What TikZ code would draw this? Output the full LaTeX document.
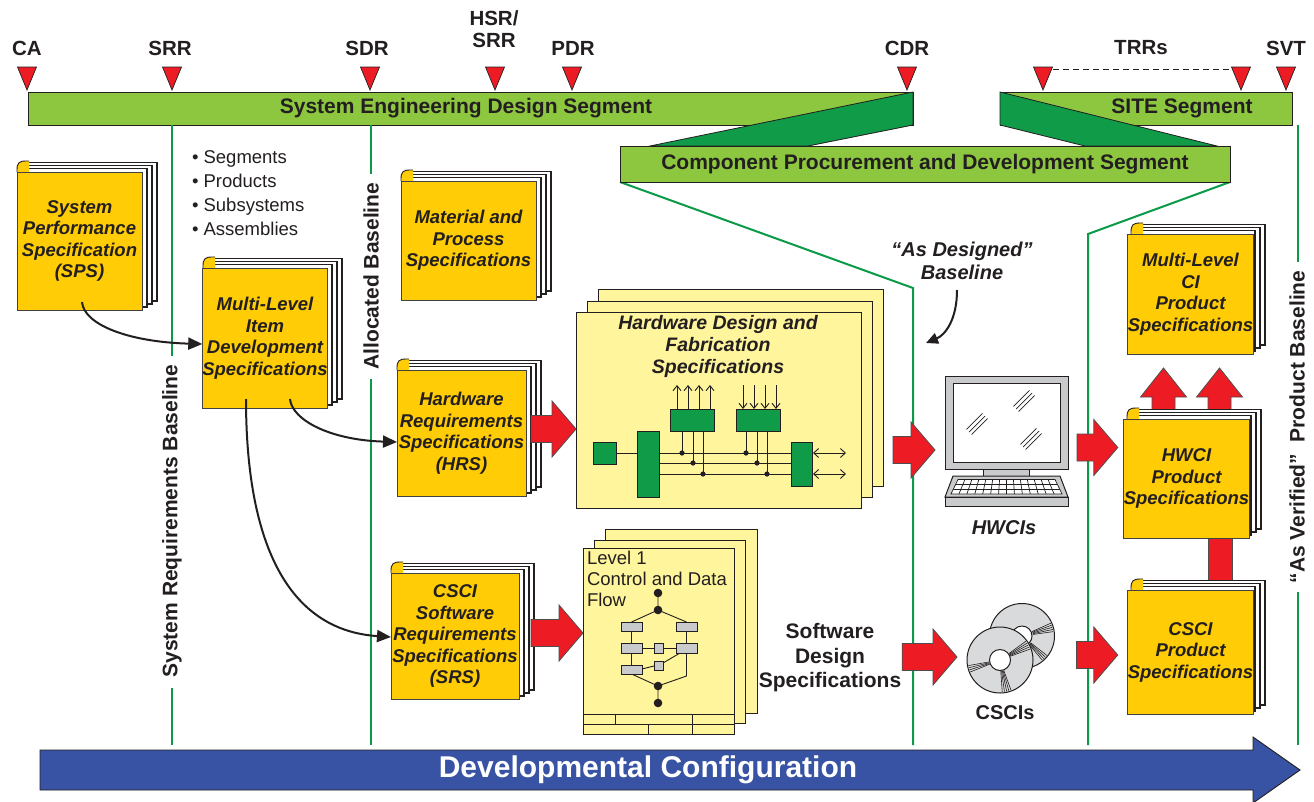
\documentclass[tikz,border=0pt]{standalone}
\usepackage{fontspec}
\setmainfont{Liberation Sans}
\usetikzlibrary{arrows.meta,calc}

\definecolor{ink}{HTML}{231F20}
\definecolor{lgreen}{HTML}{8DC63F}
\definecolor{dgreen}{HTML}{0F9B48}
\definecolor{lineg}{HTML}{0A9A48}
\definecolor{gold}{HTML}{FFCC05}
\definecolor{paleyel}{HTML}{FFF59C}
\definecolor{ared}{HTML}{ED1C24}
\definecolor{dblue}{HTML}{3853A4}
\definecolor{lgray}{HTML}{C9CACC}
\definecolor{discgray}{HTML}{D9DADB}

\newcommand\fsz[2]{\fontsize{#1}{#2}\selectfont}

\tikzset{
  every node/.style={text=ink, inner sep=0pt, outer sep=0pt},
  bline/.style={draw=lineg, line width=2pt},
  segbar/.style={draw=ink, line width=1pt, fill=lgreen},
  segjoin/.style={draw=ink, line width=0.8pt, fill=dgreen},
  segtext/.style={font=\bfseries\fsz{21}{24}},
  mslabel/.style={font=\bfseries\fsz{20.5}{22}, align=center},
  mstri/.style={fill=ared, draw=ink, line width=0.7pt},
  vlabel/.style={font=\bfseries\fsz{21}{24}, rotate=90},
  backpage/.style={fill=white, draw=ink, line width=1.1pt},
  curlline/.style={draw=ink, line width=0.9pt},
  frontpage/.style={fill=gold, draw=ink!85, line width=1pt,
    font=\bfseries\itshape\fsz{18.5}{21.5}, align=center},
  paper/.style={fill=paleyel, draw=ink, line width=1pt},
  chip/.style={fill=dgreen, draw=ink, line width=0.9pt},
  wire/.style={draw=ink, line width=0.9pt},
  flowbox/.style={fill=lgray, draw=ink, line width=0.8pt},
  redblock/.style={fill=ared, draw=ink!80, line width=0.8pt, line join=miter},
  flowarrow/.style={draw=ink, line width=2pt, -{Triangle[length=14pt,width=12pt]}},
  comp/.style={fill=lgray, draw=ink, line width=1pt},
  disc/.style={circle, fill=discgray, draw=ink, line width=1pt},
  bigarrow/.style={fill=dblue, draw=ink, line width=0.9pt},
}

% a specification book: name, x0, y0, x1, y1 (front cover), title
\newcommand\specbook[6]{%
  \foreach \k in {3,2,1}{%
    \draw[backpage] ({#2+5},{#3-3.3*\k}) rectangle ({#4+5*\k},{#5-3*\k});
  }
  \fill[gold] (#2,#3) -- (#2,{#3-2}) .. controls (#2,{#3-9}) and ({#2+2},{#3-11}) .. ({#2+9},{#3-11})
     -- ({#2+12},{#3-11}) -- ({#2+12},#3) -- cycle;
  \draw[curlline] (#2,#3) -- (#2,{#3-2}) .. controls (#2,{#3-9}) and ({#2+2},{#3-11}) .. ({#2+9},{#3-11})
     -- ({#2+12},{#3-11});
  \node[frontpage, minimum width={(#4-#2)*1pt}, minimum height={(#5-#3)*1pt}]
     (#1) at ({(#2+#4)/2},{(#3+#5)/2}) {#6};
}

% red block arrow pointing right: tail point, tip point
\newcommand\hblock[2]{%
  \draw[redblock] let \p1=#1, \p2=#2 in
    (\x1,\y2+13.5pt) -- (\x2-24pt,\y2+13.5pt) -- (\x2-24pt,\y2+28pt) -- (\p2)
    -- (\x2-24pt,\y2-28pt) -- (\x2-24pt,\y2-13.5pt) -- (\x1,\y2-13.5pt) -- cycle;
}
% red block arrow pointing up: tail point, tip point
\newcommand\vblock[2]{%
  \draw[redblock] let \p1=#1, \p2=#2 in
    (\x2-11.5pt,\y1) -- (\x2-11.5pt,\y2-29pt) -- (\x2-23pt,\y2-29pt) -- (\p2)
    -- (\x2+23pt,\y2-29pt) -- (\x2+11.5pt,\y2-29pt) -- (\x2+11.5pt,\y1) -- cycle;
}

\begin{document}
\begin{tikzpicture}[x=1pt,y=-1pt]
\useasboundingbox (0,0) rectangle (1314,801);
\fill[white] (0,0) rectangle (1314,801);

% ---------- segment bars
\node[segbar, minimum width=885pt, minimum height=33pt] (seds) at (470.5,108.5) {};
\node[segbar, minimum width=292pt, minimum height=33pt] (site) at (1146,108.5) {};
\node[segbar, minimum width=610pt, minimum height=36pt] (cpds) at (925,164) {};

% ---------- baselines
\draw[bline] (seds.south -| 172,0) -- (172,356);
\draw[bline] (172,688) -- (172,745);
\draw[bline] (seds.south -| 371,0) -- (371,174);
\draw[bline] (371,379) -- (371,745);
\draw[bline] (cpds.south west) -- (913,288) -- (913,745);
\draw[bline] (cpds.south east) -- (1088,234) -- (1088,745);
\draw[bline] (site.south -| 1298,0) -- (1298,262);
\draw[bline] (1298,592) -- (1298,745);

\draw[segjoin] (seds.north east) -- (seds.south east) -- ($(cpds.north west)+(188,0)$)
   -- ($(cpds.north west)+(30,0)$) -- cycle;
\draw[segjoin] (site.north west) -- (site.south west) -- ($(cpds.north east)+(-145,0)$)
   -- ($(cpds.north east)+(-13,0)$) -- cycle;
\node[segbar, minimum width=610pt, minimum height=36pt] (cpds2) at (925,164) {};

\node[segtext] (sedst) at (466,108) {System Engineering Design Segment};
\node[segtext] (sitet) at (1182,108) {SITE Segment};
\node[segtext] (cpdst) at (925,164) {Component Procurement and Development Segment};

% ---------- milestones
\foreach \mx in {27,172,370,495,572,907,1043,1241,1286}{
  \draw[mstri] ({\mx-9.5},67) -- ({\mx+9.5},67) -- (\mx,90) -- cycle;
}
\draw[ink, line width=1pt, dash pattern=on 6pt off 4pt] (1053,69) -- (1231,69);
\node[mslabel] (mca) at (27,48) {CA};
\node[mslabel] (msrr) at (170,48) {SRR};
\node[mslabel] (msdr) at (367,48) {SDR};
\node[mslabel] (mhsr) at (494,29) {HSR/\\SRR};
\node[mslabel] (mpdr) at (573,48) {PDR};
\node[mslabel] (mcdr) at (907,48) {CDR};
\node[mslabel] (mtrr) at (1141,48) {TRRs};
\node[mslabel] (msvt) at (1286,48) {SVT};

% ---------- baseline labels
\node[vlabel] (srbl) at (172,521) {System Requirements Baseline};
\node[vlabel] (albl) at (371,276) {Allocated Baseline};
\node[vlabel] (avbl) at (1297,427) {“As Verified”\ \ Product Baseline};

% ---------- bullet list
\node[anchor=north west, align=left, font=\fsz{18.5}{23.7}] (blist) at (192,151)
  {• Segments\\• Products\\• Subsystems\\• Assemblies};

% ---------- requirement books
\specbook{sps}{17}{172}{142}{310}{System\\Performance\\Specification\\(SPS)}
\specbook{mlids}{203}{268}{327}{408}{Multi-Level\\Item\\Development\\Specifications}
\specbook{mps}{401}{181}{536}{300}{Material and\\Process\\Specifications}
\specbook{hrs}{397}{370}{526}{496}{Hardware\\Requirements\\Specifications\\(HRS)}
\specbook{srs}{391}{573}{519}{699}{CSCI\\Software\\Requirements\\Specifications\\(SRS)}

% ---------- flow arrows between books
\draw[flowarrow] ($(sps.south)+(2.5,-8)$) .. controls +(2,23) and +(-73,-2) .. ($(mlids.west)+(0,6)$);
\draw[flowarrow] ($(mlids.south)+(25,-9)$) .. controls +(2,21) and +(-67,-2) .. ($(hrs.west)+(0,9)$);
\draw[flowarrow] ($(mlids.south)+(-19,-9)$) .. controls +(0,141) and +(-105,-7) .. ($(srs.west)+(0,1)$);

% ---------- hardware design stack
\node[paper, minimum width=285pt, minimum height=197pt] (hwback) at (740.5,387.5) {};
\node[paper, minimum width=285pt, minimum height=196pt] (hwmid) at (729.5,399) {};
\node[paper, minimum width=285pt, minimum height=196pt] (hwfront) at (718.5,410) {};
\node[font=\bfseries\itshape\fsz{19.5}{22}, align=center] (hwtitle) at (718,346)
  {Hardware Design and\\Fabrication\\Specifications};
% circuit
\foreach \yy in {453,463,474}{ \draw[wire] (659,\yy) -- (791,\yy); }
\draw[wire] (616,453) -- (637,453);
\foreach \xx/\yy in {682/453,693/463,703/474,746/453,757/463,767/474}{
  \draw[wire] (\xx,431) -- (\xx,\yy);
  \fill[ink] (\xx,\yy) circle (2.6);
}
\foreach \xx in {677,688,699,710}{ \draw[wire, -{Straight Barb[length=5pt,width=8pt]}] (\xx,409) -- (\xx,385); }
\foreach \xx in {743,754,765,776}{ \draw[wire, -{Straight Barb[length=5pt,width=8pt]}] (\xx,385) -- (\xx,409); }
\foreach \yy in {453,474}{ \draw[wire, {Straight Barb[length=5pt,width=9pt]}-{Straight Barb[length=5pt,width=9pt]}] (813,\yy) -- (846,\yy); }
\node[chip, minimum width=23pt, minimum height=22pt] (csq) at (604.5,453) {};
\node[chip, minimum width=22pt, minimum height=66pt] (ctall) at (648,464) {};
\node[chip, minimum width=44pt, minimum height=22pt] (ctop1) at (692,420) {};
\node[chip, minimum width=44pt, minimum height=22pt] (ctop2) at (758,420) {};
\node[chip, minimum width=21pt, minimum height=44pt] (cright) at (801.5,464) {};

% ---------- software design stack
\node[paper, minimum width=152pt, minimum height=184pt] (swback) at (681,621) {};
\node[paper, minimum width=151pt, minimum height=183pt] (swmid) at (669.5,631.5) {};
\node[paper, minimum width=151pt, minimum height=186pt] (swfront) at (658.5,641) {};
\node[anchor=north west, align=left, font=\fsz{18.5}{21}] (swtitle) at (587,551)
  {Level 1\\Control and Data\\Flow};
% control flow
\draw[wire] (658,593) -- (658,610) -- (631.5,622);
\draw[wire] (658,610) -- (686.5,622);
\draw[wire] (631.5,631) -- (631.5,643);
\draw[wire] (631.5,653) -- (631.5,665);
\draw[wire] (686.5,631) -- (686.5,643);
\draw[wire] (686.5,653) -- (686.5,676) -- (658,686);
\draw[wire] (631.5,674) -- (658,686) -- (658,703);
\draw[wire] (642,648) -- (676,648);
\draw[wire] (642,669) -- (654,666);
\draw[wire] (663,663) -- (680,653);
\node[flowbox, minimum width=21pt, minimum height=9pt] (fl1) at (631.5,626.5) {};
\node[flowbox, minimum width=21pt, minimum height=10pt] (fl2) at (631.5,648) {};
\node[flowbox, minimum width=21pt, minimum height=9pt] (fl3) at (631.5,669.5) {};
\node[flowbox, minimum width=21pt, minimum height=9pt] (fr1) at (686.5,626.5) {};
\node[flowbox, minimum width=21pt, minimum height=10pt] (fr2) at (686.5,648) {};
\node[flowbox, minimum width=9pt, minimum height=10pt] (fs1) at (658.5,648) {};
\node[flowbox, minimum width=9pt, minimum height=9pt] (fs2) at (658.5,665.5) {};
\foreach \yy in {593,610,686,703}{ \fill[ink] (658,\yy) circle (4.3); }
% title block
\draw[wire] (583,714) -- (734,714);
\draw[wire] (583,724) -- (734,724);
\draw[wire] (615,714) -- (615,724);
\draw[wire] (692,714) -- (692,734);
\draw[wire] (648,724) -- (648,734);

\node[font=\bfseries\fsz{21}{24.5}, align=center] (sdspec) at (830,658)
  {Software\\Design\\Specifications};

% ---------- computer (HWCIs)
\node[comp, minimum width=123pt, minimum height=93pt] (monitor) at (1006.5,422.5) {};
\node[fill=white, draw=ink, line width=0.9pt, minimum width=107pt, minimum height=79pt] (screen) at (1006.5,422.5) {};
\foreach \cx/\cy in {977/424,1024/401,1031/439}{
  \foreach \d in {-2.6,0,2.6}{
    \draw[ink, line width=0.7pt] ({\cx-8+\d},{\cy+8+\d}) -- ({\cx+8+\d},{\cy-8+\d});
  }
}
\draw[comp] (983,469) rectangle (1029,476);
\draw[comp] (953,476) -- (1060,476) -- (1068,497) -- (945,497) -- cycle;
\draw[comp] (945,497) rectangle (1068,506);
\fill[white] (958,479.5) -- (1055,479.5) -- (1062,494) -- (951,494) -- cycle;
\draw[ink, line width=0.7pt] (958,479.5) -- (1055,479.5) -- (1062,494) -- (951,494) -- cycle;
\draw[ink, line width=0.7pt] (955.6,484.3) -- (1057.4,484.3);
\draw[ink, line width=0.7pt] (953.3,489.2) -- (1059.7,489.2);
\foreach \k in {1,...,13}{
  \draw[ink, line width=0.7pt] ({958+\k*97/14},479.5) -- ({951+\k*111/14},494);
}
\node[font=\bfseries\itshape\fsz{20}{22}] (hwcis) at (1004,528) {HWCIs};

% ---------- discs (CSCIs)
\node[disc, minimum size=65pt] (cdback) at (1022,636) {};
\foreach \a in {8,12,16,20,24,-38,-42,-46,-50}{
  \draw[ink, line width=0.6pt] ({1022+11*cos(\a)},{636-11*sin(\a)}) -- ({1022+31.5*cos(\a)},{636-31.5*sin(\a)});
}
\draw[fill=white, draw=ink, line width=1pt] (1022,636) circle (10);
\node[disc, minimum size=66pt] (cdfront) at (1000,660) {};
\foreach \a in {20,24,28,32,36,190,194,198,202,-70,-74,-78,-82,-86}{
  \draw[ink, line width=0.6pt] ({1000+11*cos(\a)},{660-11*sin(\a)}) -- ({1000+32*cos(\a)},{660-32*sin(\a)});
}
\draw[fill=white, draw=ink, line width=1pt] (1000,660) circle (10.5);
\node[font=\bfseries\fsz{20}{22}] (cscis) at (1005,713) {CSCIs};

% ---------- product specifications
\vblock{($(1163.5,419)$)}{($(1163.5,368)$)}
\vblock{($(1219.5,419)$)}{($(1219.5,368)$)}
\draw[redblock] (1208,533) rectangle (1232,590);
\specbook{mlci}{1131}{234}{1250}{354}{Multi-Level\\CI\\Product\\Specifications}
\specbook{hwcip}{1127}{419}{1246}{538}{HWCI\\Product\\Specifications}
\specbook{cscip}{1131}{590}{1250}{714}{CSCI\\Product\\Specifications}

% ---------- red block arrows
\hblock{($(hrs.east)+(5,0)$)}{($(hwfront.west)+(0,19)$)}
\hblock{($(srs.east)+(12,0)$)}{($(swfront.west)+(0,-8)$)}
\hblock{($(hwback.east)+(10,0)$)}{($(monitor.west)+(-10,27.5)$)}
\hblock{($(sdspec.east)+(1,0)$)}{($(cdfront.west)+(-10,-3)$)}
\hblock{($(monitor.east)+(9,0)$)}{($(hwcip.west)+(-6,-31)$)}
\hblock{($(cdback.east)+(22,0)$)}{($(cscip.west)+(-10,3)$)}

% ---------- "As Designed" baseline
\node[font=\bfseries\itshape\fsz{20}{23}, align=center] (adb) at (962,261)
  {“As Designed”\\Baseline};
\coordinate (adtip) at (926,343);
\draw[ink, line width=2pt, -{Triangle[length=12pt,width=11pt]}] (957,290) .. controls +(0,30) and +(19,-8) .. (adtip);

% ---------- developmental configuration
\draw[bigarrow] (40,750) -- (1253,750) -- (1253,737) -- (1300,770) -- (1253,803)
  -- (1253,790) -- (40,790) -- cycle;
\node[font=\bfseries\fsz{30}{32}, text=white] (devcfg) at (648,770) {Developmental Configuration};

\end{tikzpicture}
\end{document}
